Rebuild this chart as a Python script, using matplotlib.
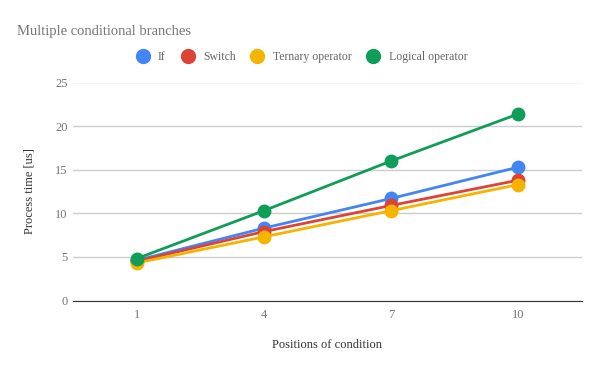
import numpy as np
import matplotlib.pyplot as plt

plt.rcParams['font.family'] = ['Liberation Serif', 'DejaVu Serif']

positions = ["1", "4", "7", "10"]
if_times = [4.6, 8.3, 11.7, 15.3]
switch_times = [4.5, 7.9, 10.9, 13.8]
ternary_times = [4.3, 7.3, 10.3, 13.3]
logical_times = [4.8, 10.3, 16.0, 21.4]

series = [
    ("If", if_times, "#4285F4"),
    ("Switch", switch_times, "#DB4437"),
    ("Ternary operator", ternary_times, "#F4B400"),
    ("Logical operator", logical_times, "#0F9D58"),
]

fig = plt.figure(figsize=(6, 3.71), dpi=100)
ax = fig.add_axes([73 / 600, 1 - 300.5 / 371, 509 / 600, 218 / 371])

x = np.arange(len(positions))
for name, vals, col in series:
    ax.plot(x, vals, color=col, lw=2, marker="o", ms=9, label=name)

ax.set_xlim(-0.5, len(positions) - 0.5)
ax.set_ylim(0, 25)
ax.set_yticks([0, 5, 10, 15, 20, 25])
ax.set_xticks(x)
ax.set_xticklabels(positions)
ax.grid(axis="y", color="#cccccc", lw=1)
ax.set_axisbelow(True)
for s in ["top", "right", "left"]:
    ax.spines[s].set_visible(False)
ax.spines["bottom"].set_color("#333333")
ax.tick_params(length=0, colors="#757575", labelsize=9)
ax.tick_params(axis="y", pad=4)
ax.tick_params(axis="x", pad=6)

ax.set_ylabel("Process time [us]", fontsize=9, color="#333333", labelpad=14)
ax.set_xlabel("Positions of condition", fontsize=9, color="#333333", labelpad=13)

fig.text(17 / 600, 1 - 32 / 371, "Multiple conditional branches", fontsize=10.5,
         color="#757575", va="center")

leg = fig.legend(loc="center left", bbox_to_anchor=(138 / 600, 1 - 57 / 371),
                 ncol=4, frameon=False, fontsize=8.5, handlelength=0.8,
                 handletextpad=0.9, columnspacing=1.45, labelcolor="#666666",
                 borderaxespad=0, borderpad=0)
for h in leg.legend_handles:
    h.set_linestyle("none")
    h.set_markersize(10)

fig.savefig("out.png", dpi=100)
